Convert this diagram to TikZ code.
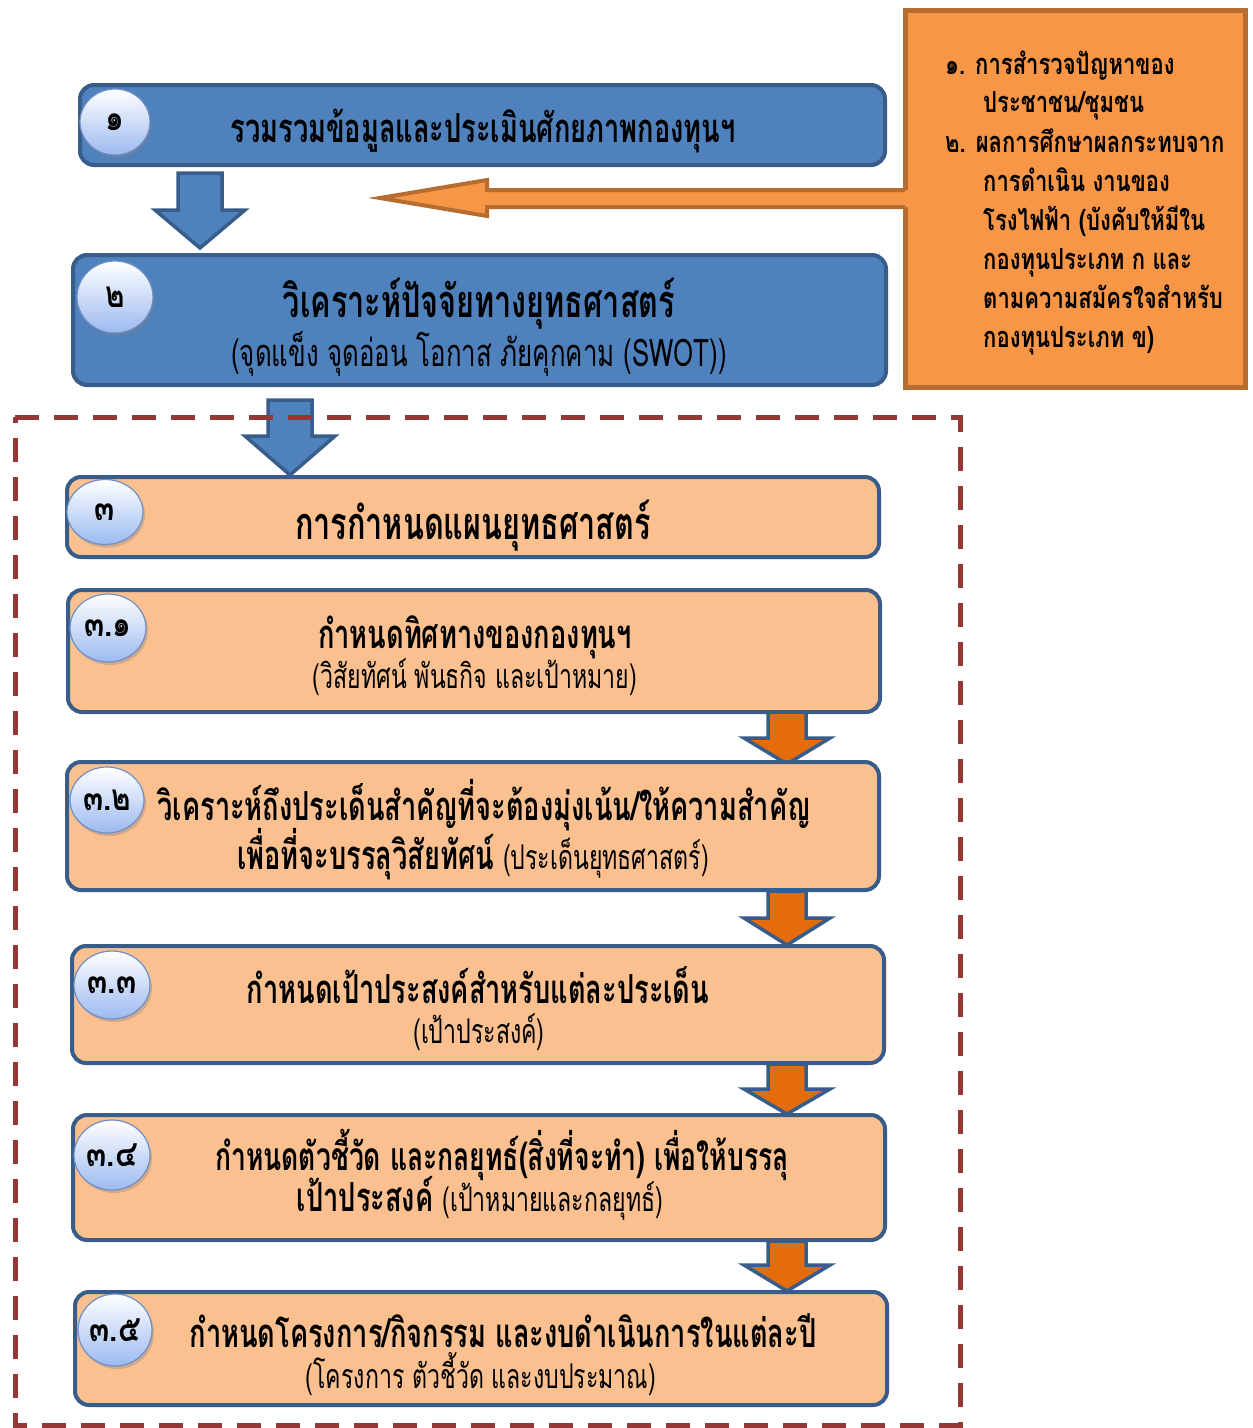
\documentclass[tikz,border=0pt]{standalone}
\usepackage{fontspec}
\newfontfamily\thaib[Script=Thai,FakeStretch=0.80]{Loma}
\newfontfamily\thais[Script=Thai,FakeStretch=0.76]{Loma}
\newfontfamily\thaic[Script=Thai,FakeStretch=0.68]{Loma}
\usetikzlibrary{shapes.geometric,shadows}
\definecolor{bfill}{HTML}{4F81BD}
\definecolor{bline}{HTML}{385D8A}
\definecolor{ofill}{HTML}{FAC090}
\definecolor{oarrow}{HTML}{E46C0A}
\definecolor{obox}{HTML}{F79646}
\definecolor{oline}{HTML}{B66D31}
\definecolor{dred}{HTML}{953735}
\definecolor{badgeb}{HTML}{9CBAF0}
\definecolor{badgel}{HTML}{6F8FC7}
\tikzset{
  bluebox/.style={draw=bline, line width=4pt, fill=bfill, rounded corners=14pt},
  peachbox/.style={draw=bline, line width=4pt, fill=ofill, rounded corners=14pt},
  badge/.style={ellipse, draw=badgel, line width=1.2pt, top color=white, bottom color=badgeb,
     drop shadow={opacity=0.35, shadow xshift=2pt, shadow yshift=-3pt},
     inner sep=0pt, font=\thaib\bfseries\fontsize{37}{40}\selectfont},
  ttl/.style={anchor=base, inner sep=0pt, font=\thaic\bfseries\fontsize{40}{44}\selectfont},
  bigttl/.style={anchor=base, inner sep=0pt, font=\thaic\bfseries\fontsize{45}{48}\selectfont},
  sub/.style={anchor=base, inner sep=0pt, font=\thaic\fontsize{34}{38}\selectfont},
  bigsub/.style={anchor=base, inner sep=0pt, font=\thaic\fontsize{38}{42}\selectfont},
  side/.style={anchor=base west, inner sep=0pt, font=\thais\bfseries\fontsize{29}{32}\selectfont},
  barrow/.style={draw=bline, line width=3.5pt, fill=bfill, line join=miter},
  oarr/.style={draw=bline, line width=3.5pt, fill=oarrow, line join=miter},
}
\newcommand{\subtxt}{\thaic\mdseries\fontsize{34}{38}\selectfont}
\newcommand{\blockdown}[6]{% x, ytop, ybase, ytip, shafthalf, headhalf
  (#1-#5,#2) -- (#1+#5,#2) -- (#1+#5,#3) -- (#1+#6,#3) -- (#1,#4) -- (#1-#6,#3) -- (#1-#5,#3) -- cycle}
\begin{document}
\begin{tikzpicture}[x=1pt,y=-1pt]
\useasboundingbox (0,0) rectangle (1253,1428);
\fill[white] (0,0) rectangle (1253,1428);

% right orange box
\node[draw=oline, line width=5pt, fill=obox, minimum width=340pt, minimum height=377pt, inner sep=0pt] (side) at (1075,198.5) {};
\fill[obox] (910,190) -- (487,190) -- (487,180) -- (380,198) -- (487,216) -- (487,207) -- (910,207) -- cycle;
\draw[oline, line width=4pt, line join=miter] (905,190) -- (487,190) -- (487,180) -- (380,198) -- (487,216) -- (487,207) -- (905,207);
\fill[obox] (903.5,192) rectangle (908,205);

\node[side] (s1) at (945,74) {๑. การสำรวจปัญหาของ};
\node[side] (s2) at (983,112) {ประชาชน/ชุมชน};
\node[side] (s3) at (945,152) {๒. ผลการศึกษาผลกระทบจาก};
\node[side] (s4) at (983,191) {การดำเนิน งานของ};
\node[side] (s5) at (983,230) {โรงไฟฟ้า (บังคับให้มีใน};
\node[side] (s6) at (983,269) {กองทุนประเภท ก และ};
\node[side] (s7) at (983,308) {ตามความสมัครใจสำหรับ};
\node[side] (s8) at (983,347) {กองทุนประเภท ข)};

% box 1
\node[bluebox, minimum width=805pt, minimum height=80pt] (b1) at (482.5,125) {};
\node[badge, minimum width=70pt, minimum height=66pt] (c1) at (115,122) {๑};
\node[ttl] (t1) at (483,142) {รวมรวมข้อมูลและประเมินศักยภาพกองทุนฯ};

% arrow 1
\draw[barrow] \blockdown{200}{173}{210}{248}{22}{45};

% box 2
\node[bluebox, minimum width=813pt, minimum height=130pt] (b2) at (479.5,320) {};
\node[badge, minimum width=76pt, minimum height=72pt] (c2) at (115,297) {๒};
\node[bigttl] (t2) at (479,317) {วิเคราะห์ปัจจัยทางยุทธศาสตร์};
\node[bigsub] (u2) at (479,366) {(จุดแข็ง จุดอ่อน โอกาส ภัยคุกคาม (SWOT))};

% arrow 2
\draw[barrow] \blockdown{290}{400}{436}{475}{22}{45};

% dashed frame
\draw[dred, line width=5pt, dash pattern=on 24pt off 15pt] (15,417) -- (960,417) -- (960,1425) -- (15,1425) -- cycle;

% box 3
\node[peachbox, minimum width=812pt, minimum height=80pt] (b3) at (473,517) {};
\node[badge, minimum width=76pt, minimum height=65pt] (c3) at (105,512) {๓};
\node[bigttl] (t3) at (473,539) {การกำหนดแผนยุทธศาสตร์};

% box 3.1
\node[peachbox, minimum width=812pt, minimum height=122pt] (b31) at (474,651) {};
\node[badge, minimum width=76pt, minimum height=68pt] (c31) at (108,628) {๓.๑};
\node[ttl] (t31) at (475,648) {กำหนดทิศทางของกองทุนฯ};
\node[sub] (u31) at (475,688) {(วิสัยทัศน์ พันธกิจ และเป้าหมาย)};

\draw[oarr] \blockdown{787}{712}{738}{764}{19}{43};

% box 3.2
\node[peachbox, minimum width=812pt, minimum height=128pt] (b32) at (473,826) {};
\node[badge, minimum width=74pt, minimum height=66pt] (c32) at (107,800) {๓.๒};
\node[ttl] (t32) at (484,820) {วิเคราะห์ถึงประเด็นสำคัญที่จะต้องมุ่งเน้น/ให้ความสำคัญ};
\node[ttl] (t32b) at (473,869) {เพื่อที่จะบรรลุวิสัยทัศน์ {\subtxt (ประเด็นยุทธศาสตร์)}};

\draw[oarr] \blockdown{787}{891}{918}{945}{19}{43};

% box 3.3
\node[peachbox, minimum width=812pt, minimum height=117pt] (b33) at (478,1004.5) {};
\node[badge, minimum width=76pt, minimum height=68pt] (c33) at (112,985) {๓.๓};
\node[ttl] (t33) at (478,1003) {กำหนดเป้าประสงค์สำหรับแต่ละประเด็น};
\node[sub] (u33) at (479,1043) {(เป้าประสงค์)};

\draw[oarr] \blockdown{787}{1064}{1089}{1114}{19}{43};

% box 3.4
\node[peachbox, minimum width=812pt, minimum height=125pt] (b34) at (479,1177.5) {};
\node[badge, minimum width=76pt, minimum height=70pt] (c34) at (112,1155) {๓.๔};
\node[ttl, font=\thaic\bfseries\fontsize{39}{44}\selectfont] (t34) at (502,1170) {กำหนดตัวชี้วัด และกลยุทธ์(สิ่งที่จะทำ) เพื่อให้บรรลุ};
\node[ttl] (t34b) at (480,1211) {เป้าประสงค์ {\subtxt (เป้าหมายและกลยุทธ์)}};

\draw[oarr] \blockdown{787}{1241}{1265}{1291}{19}{43};

% box 3.5
\node[peachbox, minimum width=812pt, minimum height=113pt] (b35) at (481,1348.5) {};
\node[badge, minimum width=74pt, minimum height=72pt] (c35) at (115,1330) {๓.๕};
\node[ttl] (t35) at (503,1347) {กำหนดโครงการ/กิจกรรม และงบดำเนินการในแต่ละปี};
\node[sub] (u35) at (481,1388) {(โครงการ ตัวชี้วัด และงบประมาณ)};
\end{tikzpicture}
\end{document}
